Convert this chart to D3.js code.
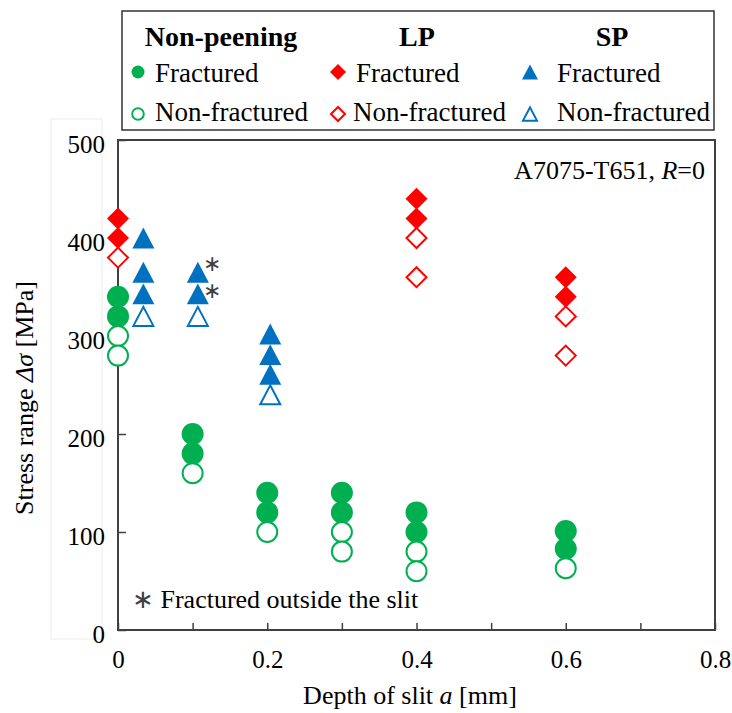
<!DOCTYPE html>
<html>
<head>
<meta charset="utf-8">
<script src="https://cdn.jsdelivr.net/npm/d3@7"></script>
<style>
body { margin: 0; background: #fff; }
svg { display: block; font-family: "Liberation Serif", "Times New Roman", serif; }
</style>
</head>
<body>
<div id="chart"></div>
<script>
// [depth of slit a (mm), stress range (MPa)]
var npFractured = [[0,340],[0,320],[0.1,200],[0.1,180],[0.2,140],[0.2,120],[0.3,140],[0.3,120],[0.4,120],[0.4,100],[0.6,101],[0.6,83]];
var npNonFractured = [[0,300],[0,280],[0.1,160],[0.2,100],[0.3,100],[0.3,80],[0.4,80],[0.4,60],[0.6,63]];
var lpFractured = [[0,420],[0,400],[0.4,440],[0.4,420],[0.6,360],[0.6,340]];
var lpNonFractured = [[0,380],[0.4,400],[0.4,360],[0.6,320],[0.6,280]];
var spFractured = [[0.034,400],[0.034,365],[0.034,343],[0.107,365],[0.107,343],[0.204,302],[0.204,281],[0.204,261]];
var spNonFractured = [[0.034,320],[0.107,320],[0.204,240]];
// SP points that fractured outside the slit (marked with *)
var outsideSlit = [[0.107,365],[0.107,343]];

var xTicks = [0,0.1,0.2,0.3,0.4,0.5,0.6,0.7,0.8];
var xTickLabels = [0,0.2,0.4,0.6,0.8];
var yTicks = [0,100,200,300,400,500];

var groups = ["Non-peening", "LP", "SP"];

var W = 732, H = 713;
var GREEN = "#00b050", RED = "#ff0000", BLUE = "#0070c0", AXIS = "#404040";

// marker shapes, size = width^2
var diamond = {draw: function(c, s){ var r = Math.sqrt(s)/2;
    c.moveTo(0,-r); c.lineTo(r,0); c.lineTo(0,r); c.lineTo(-r,0); c.closePath(); }};
var triangle = {draw: function(c, s){ var r = Math.sqrt(s)/2;
    c.moveTo(0,-r*0.95); c.lineTo(r,r*0.95); c.lineTo(-r,r*0.95); c.closePath(); }};

var svg = d3.select("#chart").append("svg")
    .attr("width", W)
    .attr("height", H);

var x = d3.scaleLinear().domain([0,0.8]).range([118,715]);
var y = d3.scaleLinear().domain([0,500]).range([630,140]);

//faint leftover box behind y labels
svg.append("rect")
    .attr("x", 51).attr("y", 119).attr("width", 51).attr("height", 520)
    .attr("fill", "none").attr("stroke", "#ececec").attr("stroke-width", 1);

//frame
svg.append("rect")
    .attr("x", x(0)).attr("y", y(500))
    .attr("width", x(0.8)-x(0)).attr("height", y(0)-y(500))
    .attr("fill", "none").attr("stroke", AXIS).attr("stroke-width", 2);

//x axis
var xAxis = svg.append("g")
    .attr("transform", "translate(0," + y(0) + ")")
    .call(d3.axisBottom(x).tickValues(xTicks).tickSizeInner(-7).tickSizeOuter(0).tickPadding(20)
        .tickFormat(function(d){ return xTickLabels.indexOf(d) >= 0 ? d3.format("")(d) : ""; }));
xAxis.select(".domain").remove();
xAxis.selectAll("line").attr("stroke", AXIS).attr("stroke-width", 1.5);
xAxis.selectAll("text").attr("font-size", 25).attr("fill", "#000")
    .attr("font-family", "Liberation Serif");

//y axis
var yAxis = svg.append("g")
    .attr("transform", "translate(" + x(0) + ",0)")
    .call(d3.axisLeft(y).tickValues(yTicks).tickSizeInner(-8).tickSizeOuter(0).tickPadding(13));
yAxis.select(".domain").remove();
yAxis.selectAll("line").attr("stroke", AXIS).attr("stroke-width", 1.5);
yAxis.selectAll("text").attr("font-size", 25).attr("fill", "#000").attr("dy", "0.5em")
    .attr("font-family", "Liberation Serif");

//axis titles
var xt = svg.append("text").attr("x", 410).attr("y", 704)
    .attr("text-anchor", "middle").attr("font-size", 26);
xt.append("tspan").text("Depth of slit ");
xt.append("tspan").attr("font-style", "italic").text("a");
xt.append("tspan").text(" [mm]");

var yt = svg.append("text").attr("transform", "translate(33,398) rotate(-90)")
    .attr("text-anchor", "middle").attr("font-size", 26);
yt.append("tspan").text("Stress range ");
yt.append("tspan").attr("font-style", "italic").text("\u0394\u03c3");
yt.append("tspan").text(" [MPa]");

//annotations
var ann = svg.append("text").attr("x", 705).attr("y", 179)
    .attr("text-anchor", "end").attr("font-size", 26);
ann.append("tspan").text("A7075-T651, ");
ann.append("tspan").attr("font-style", "italic").text("R");
ann.append("tspan").text("=0");

var note = svg.append("text").attr("x", 132).attr("y", 608).attr("font-size", 26);
note.append("tspan").attr("fill", AXIS).text("\u2217");
note.append("tspan").text(" Fractured outside the slit");

//markers
var sym = d3.symbol();
function drawSeries(data, type, size, color, filled){
    svg.append("g").selectAll("path")
        .data(data)
        .enter()
        .append("path")
        .attr("transform", d => "translate(" + x(d[0]) + "," + y(d[1]) + ")")
        .attr("d", sym.type(type).size(size)())
        .attr("fill", filled ? color : "#fff")
        .attr("stroke", filled ? "none" : color)
        .attr("stroke-width", 2);
}
drawSeries(npFractured, d3.symbolCircle, Math.PI*11*11, GREEN, true);
drawSeries(lpFractured, diamond, 22*22, RED, true);
drawSeries(spFractured, triangle, 22*22, BLUE, true);
drawSeries(npNonFractured, d3.symbolCircle, Math.PI*10*10, GREEN, false);
drawSeries(lpNonFractured, diamond, 20*20, RED, false);
drawSeries(spNonFractured, triangle, 20*20, BLUE, false);

//asterisks beside the SP points, nudged apart
svg.append("g").selectAll("text")
    .data(outsideSlit)
    .enter()
    .append("text")
    .attr("x", d => x(d[0]) + 5)
    .attr("y", (d, i) => y(d[1]) + (i === 0 ? -1.5 : 4))
    .attr("font-size", 22)
    .attr("fill", AXIS)
    .text("\u2217");

//legend
var lg = svg.append("g");
lg.append("rect").attr("x", 122).attr("y", 11).attr("width", 592).attr("height", 119)
    .attr("fill", "#fff").attr("stroke", "#333").attr("stroke-width", 1.5);

var colX = [138, 338, 530];
var headX = [221, 417, 612];
var legendItems = [
    {col: 0, type: d3.symbolCircle, color: GREEN},
    {col: 1, type: diamond, color: RED},
    {col: 2, type: triangle, color: BLUE}
];
lg.selectAll(".head")
    .data(groups)
    .enter()
    .append("text")
    .attr("x", (d, i) => headX[i]).attr("y", 46)
    .attr("text-anchor", "middle").attr("font-weight", "bold").attr("font-size", 28)
    .text(d => d);

legendItems.forEach(function(it){
    var cx = colX[it.col];
    var fsize = it.type === d3.symbolCircle ? Math.PI*6.5*6.5 : 16*16;
    var osize = it.type === d3.symbolCircle ? Math.PI*5.8*5.8 : 14*14;
    lg.append("path").attr("transform", "translate(" + cx + ",72)")
        .attr("d", sym.type(it.type).size(fsize)()).attr("fill", it.color);
    lg.append("path").attr("transform", "translate(" + cx + ",114)")
        .attr("d", sym.type(it.type).size(osize)()).attr("fill", "#fff")
        .attr("stroke", it.color).attr("stroke-width", 2);
    var tx = [155, 356, 557][it.col];
    var tx2 = [155, 353, 557][it.col];
    lg.append("text").attr("x", tx).attr("y", 82).attr("font-size", 27).text("Fractured");
    lg.append("text").attr("x", tx2).attr("y", 121).attr("font-size", 27).text("Non-fractured");
});
</script>
</body>
</html>
